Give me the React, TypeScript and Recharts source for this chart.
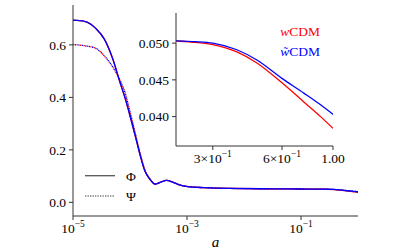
import React from 'react';
import { LineChart, Line, XAxis, YAxis } from 'recharts';

// log10(a) sample points
const LOG_A = [
  -5, -4.8, -4.6, -4.45, -4.3, -4.18, -4.09, -4, -3.91, -3.82, -3.74, -3.65, -3.56, -3.47,
  -3.36, -3.24, -3.12, -2.95, -2.7, -2.25, -1.5, -1, -0.683, -0.6, -0.523, -0.418, -0.331,
  -0.222, -0.127, -0.054, 0,
];

// Phi, w-tilde CDM (blue)
const PHI_WT = [
  0.694, 0.69, 0.663, 0.622, 0.545, 0.46, 0.4, 0.33, 0.255, 0.178, 0.12, 0.088, 0.07, 0.076,
  0.084, 0.076, 0.066, 0.059, 0.056, 0.053, 0.0515, 0.0508, 0.0503, 0.0502, 0.05, 0.0491, 0.0477,
  0.0452, 0.0432, 0.0416, 0.0403,
];
// Phi, wCDM (red)
const PHI_W = [
  0.694, 0.69, 0.663, 0.622, 0.545, 0.46, 0.4, 0.33, 0.255, 0.178, 0.12, 0.088, 0.07, 0.076,
  0.084, 0.076, 0.066, 0.059, 0.056, 0.053, 0.0515, 0.0508, 0.0503, 0.0501, 0.0498, 0.0488, 0.0473,
  0.0446, 0.042, 0.04, 0.0384,
];
// Psi
const PSI_WT = [
  0.601, 0.597, 0.587, 0.558, 0.515, 0.467, 0.42, 0.345, 0.265, 0.185, 0.124, 0.088, 0.07, 0.076,
  0.084, 0.076, 0.066, 0.059, 0.056, 0.053, 0.0515, 0.0508, 0.0503, 0.0502, 0.05, 0.0491, 0.0477,
  0.0452, 0.0432, 0.0416, 0.0403,
];
const PSI_W = [
  0.601, 0.597, 0.587, 0.558, 0.515, 0.467, 0.42, 0.345, 0.265, 0.185, 0.124, 0.088, 0.07, 0.076,
  0.084, 0.076, 0.066, 0.059, 0.056, 0.053, 0.0515, 0.0508, 0.0503, 0.0501, 0.0498, 0.0488, 0.0473,
  0.0446, 0.042, 0.04, 0.0384,
];

const MAIN_X_TICKS = [1e-5, 1e-3, 1e-1];
const MAIN_Y_TICKS = [0, 0.2, 0.4, 0.6];
const INSET_X_TICKS = [0.3, 0.6, 1];
const INSET_Y_TICKS = [0.04, 0.045, 0.05];

const data = LOG_A.map((l, i) => ({
  a: Math.pow(10, l),
  phiW: PHI_W[i],
  phiWt: PHI_WT[i],
  psiW: PSI_W[i],
  psiWt: PSI_WT[i],
}));

const FONT = '"Liberation Serif", "DejaVu Serif", serif';
const FS = 13.5;
const RED = '#ff0000';
const BLUE = '#0000ff';
const AXIS = '#333';

const mainXTick = (props: any) => {
  const { x, y, payload } = props;
  const e = Math.round(Math.log10(payload.value));
  return (
    <text x={x} y={y + 11} textAnchor="middle" fontFamily={FONT} fontSize={FS} fill="#000">
      <tspan>10</tspan>
      <tspan dy={-6} fontSize={9.5}>{`−${-e}`}</tspan>
    </text>
  );
};

const insetXTick = (props: any) => {
  const { x, y, payload } = props;
  const v = payload.value;
  if (v === 1) {
    return (
      <text x={x} y={y + 11} textAnchor="middle" fontFamily={FONT} fontSize={FS} fill="#000">
        1.00
      </text>
    );
  }
  return (
    <text x={x} y={y + 11} textAnchor="middle" fontFamily={FONT} fontSize={FS} fill="#000">
      <tspan>{`${Math.round(v * 10)}×10`}</tspan>
      <tspan dy={-6} fontSize={9.5}>−1</tspan>
    </text>
  );
};

const yTick = (digits: number) => (props: any) => {
  const { x, y, payload } = props;
  return (
    <text x={x} y={y} dy="0.35em" textAnchor="end" fontFamily={FONT} fontSize={FS} fill="#000">
      {Number(payload.value).toFixed(digits)}
    </text>
  );
};

export default function App() {
  return (
    <div style={{ position: 'fixed', left: 0, top: 0, width: 407, height: 252, background: '#fff', fontFamily: FONT }}>
      {/* main axes */}
      <div style={{ position: 'absolute', left: 0, top: 0 }}>
        <LineChart width={407} height={252} data={data} margin={{ top: 5, right: 49, left: 0, bottom: 0 }}>
          <XAxis
            dataKey="a"
            type="number"
            scale="log"
            domain={[1e-5, 1]}
            ticks={MAIN_X_TICKS}
            allowDataOverflow
            height={36}
            tickSize={4}
            tickMargin={2}
            stroke={AXIS}
            tick={mainXTick}
          />
          <XAxis xAxisId="top" orientation="top" dataKey="a" type="number" scale="log" domain={[1e-5, 1]} height={0} tick={false} tickLine={false} stroke={AXIS} />
          <YAxis
            type="number"
            domain={[-0.052, 0.752]}
            ticks={MAIN_Y_TICKS}
            allowDataOverflow
            width={73}
            tickSize={4}
            tickMargin={3}
            stroke={AXIS}
            tick={yTick(1)}
          />
          <YAxis yAxisId="right" orientation="right" domain={[-0.052, 0.752]} width={0} tick={false} tickLine={false} stroke={AXIS} />
          <Line dataKey="phiW" type="monotone" stroke={RED} strokeWidth={1.3} dot={false} isAnimationActive={false} />
          <Line dataKey="psiW" type="monotone" stroke={RED} strokeWidth={1.3} strokeDasharray="1.3 2.2" dot={false} isAnimationActive={false} />
          <Line dataKey="phiWt" type="monotone" stroke={BLUE} strokeWidth={1.3} dot={false} isAnimationActive={false} />
          <Line dataKey="psiWt" type="monotone" stroke={BLUE} strokeWidth={1.3} strokeDasharray="1.3 2.2" strokeDashoffset={1.7} dot={false} isAnimationActive={false} />
        </LineChart>
      </div>

      {/* main legend and x label */}
      <svg style={{ position: 'absolute', left: 0, top: 0 }} width={407} height={252} pointerEvents="none">
        <line x1={85} x2={115} y1={175.7} y2={175.7} stroke="#555" strokeWidth={1.3} />
        <line x1={85} x2={115} y1={196} y2={196} stroke="#777" strokeWidth={1.3} strokeDasharray="1.3 1.2" />
        <text x={126} y={180.5} fontFamily={FONT} fontSize={FS} fill="#000">Φ</text>
        <text x={126} y={200.8} fontFamily={FONT} fontSize={FS} fill="#000">Ψ</text>
        <text x={215.5} y={247} textAnchor="middle" fontFamily={FONT} fontSize={15} fontStyle="italic" fill="#000">a</text>
      </svg>

      {/* inset background */}
      <div style={{ position: 'absolute', left: 176, top: 13, width: 157, height: 133, background: '#fff' }} />

      {/* inset axes */}
      <div style={{ position: 'absolute', left: 0, top: 0 }}>
        <LineChart width={407} height={252} data={data} margin={{ top: 13, right: 74, left: 0, bottom: 76 }}>
          <XAxis
            dataKey="a"
            type="number"
            scale="log"
            domain={[0.2075, 1]}
            ticks={INSET_X_TICKS}
            allowDataOverflow
            height={30}
            tickSize={4}
            tickMargin={2}
            stroke={AXIS}
            tick={insetXTick}
          />
          <XAxis xAxisId="top" orientation="top" dataKey="a" type="number" scale="log" domain={[0.2075, 1]} allowDataOverflow height={0} tick={false} tickLine={false} stroke={AXIS} />
          <YAxis
            type="number"
            domain={[0.036, 0.0541]}
            ticks={INSET_Y_TICKS}
            allowDataOverflow
            width={176}
            tickSize={4}
            tickMargin={3}
            stroke={AXIS}
            tick={yTick(3)}
          />
          <YAxis yAxisId="right" orientation="right" domain={[0.036, 0.0541]} allowDataOverflow width={0} tick={false} tickLine={false} stroke={AXIS} />
          <Line dataKey="phiW" type="monotone" stroke={RED} strokeWidth={1.3} dot={false} isAnimationActive={false} />
          <Line dataKey="phiWt" type="monotone" stroke={BLUE} strokeWidth={1.3} dot={false} isAnimationActive={false} />
        </LineChart>
      </div>

      {/* inset legend */}
      <svg style={{ position: 'absolute', left: 0, top: 0 }} width={407} height={252} pointerEvents="none">
        <text x={320} y={35.5} textAnchor="end" fontFamily={FONT} fontSize={FS} fill={RED}>
          <tspan fontStyle="italic">w</tspan>CDM
        </text>
        <text x={320} y={55.5} textAnchor="end" fontFamily={FONT} fontSize={FS} fill={BLUE}>
          <tspan fontStyle="italic">w̃</tspan>CDM
        </text>
      </svg>
    </div>
  );
}
